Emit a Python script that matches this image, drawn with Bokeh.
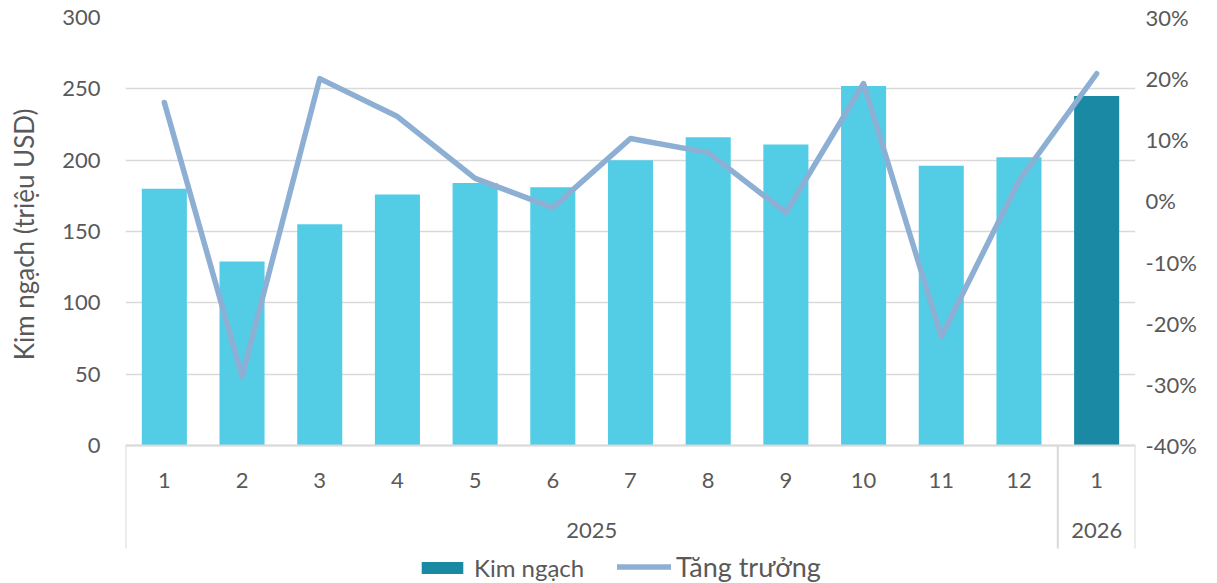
import math
from bokeh.plotting import figure
from bokeh.models import (Range1d, LinearAxis, FixedTicker, ColumnDataSource, Legend,
                          LegendItem, Title, PrintfTickFormatter)
from bokeh.core.properties import value
from bokeh.embed import file_html
from bokeh.resources import INLINE

# ---- data ----
years = ["2025"] * 12 + ["2026"]
months = ["1", "2", "3", "4", "5", "6", "7", "8", "9", "10", "11", "12", "1"]
kim_ngach = [180, 129, 155, 176, 184, 181, 200, 216, 211, 252, 196, 202, 245]
tang_truong = [16.1, -28.7, 20.0, 13.8, 3.7, -1.1, 10.2, 7.9, -1.9, 19.2, -22.2, 3.3, 20.8]
left_ticks = [0, 50, 100, 150, 200, 250, 300]
right_ticks = [-40, -30, -20, -10, 0, 10, 20, 30]

FONT = "Lato"
TXT = "#595959"
GRID = "#D9D9D9"
LIGHT = "#53CDE6"
DARK = "#1A89A3"
LINEC = "#8DAFD4"

n = len(months)
xs = list(range(1, n + 1))
colors = [DARK if y == "2026" else LIGHT for y in years]

# layout in pixels (frame from top of chart to bottom of figure)
W, H = 1217, 583
LEFT, RIGHT_EDGE, TOP = 124, 1135, 17
PLOT_PX = 428.0    # 0..300 pixel height
SEP_PX = 103.0     # separator length below baseline
frame_px = H - TOP
y_top = 300
upp = y_top / PLOT_PX
y_bot = -(frame_px - PLOT_PX) * upp
y_sep = -SEP_PX * upp
y_month = -35 * upp
y_year = -85 * upp
p_top, p_bot_axis = 30, -40
pct_bot = p_bot_axis + (y_bot / y_top) * (p_top - p_bot_axis)

p = figure(width=W, height=H, output_backend="svg", toolbar_location=None,
           x_range=Range1d(0.5, n + 0.5), y_range=Range1d(y_bot, y_top),
           x_axis_location=None, min_border_left=LEFT, min_border_right=W - RIGHT_EDGE,
           min_border_top=TOP, min_border_bottom=0)
p.outline_line_color = None
p.xgrid.visible = False
p.ygrid.ticker = FixedTicker(ticks=left_ticks)
p.ygrid.grid_line_color = GRID
p.ygrid.grid_line_width = 1.5

p.extra_y_ranges = {"pct": Range1d(pct_bot, p_top)}

ax = p.yaxis[0]
ax.ticker = FixedTicker(ticks=left_ticks)
ax.axis_line_color = None
ax.major_tick_line_color = None
ax.minor_tick_line_color = None
ax.major_tick_out = 0
ax.major_tick_in = 0
ax.minor_tick_out = 0
ax.major_label_standoff = 25
ax.major_label_text_font = FONT
ax.major_label_text_font_size = "22px"
ax.major_label_text_color = TXT
ax.axis_label = " "
ax.axis_label_text_font_size = "8px"
ax.axis_label_standoff = 3

rax = LinearAxis(y_range_name="pct", ticker=FixedTicker(ticks=right_ticks),
                 formatter=PrintfTickFormatter(format="%d%%"))
rax.axis_line_color = None
rax.major_tick_line_color = None
rax.minor_tick_line_color = None
rax.major_tick_out = 0
rax.major_tick_in = 0
rax.minor_tick_out = 0
rax.major_label_standoff = 10
rax.major_label_text_font = FONT
rax.major_label_text_font_size = "22px"
rax.major_label_text_color = TXT
p.add_layout(rax, "right")

src = ColumnDataSource(dict(x=xs, kim=kim_ngach, pct=tang_truong, month=months,
                            year=years, color=colors))

bars = p.vbar(x="x", top="kim", bottom=0, width=0.58, fill_color="color",
              line_color=None, source=src)

# x axis baseline
p.segment(x0=[0.5], y0=[0], x1=[n + 0.5], y1=[0], line_color=GRID, line_width=2)

# group separators
groups = []
for y in years:
    if not groups or groups[-1][0] != y:
        groups.append([y, 0])
    groups[-1][1] += 1
bounds = [0.5]
centers = []
for g, cnt in groups:
    start = bounds[-1]
    bounds.append(start + cnt)
    centers.append(start + cnt / 2.0)
p.segment(x0=bounds, y0=[0] * len(bounds), x1=bounds, y1=[y_sep] * len(bounds),
          line_color=GRID, line_width=2)

# category labels
p.text(x="x", y=y_month, text="month", source=src, text_font=value(FONT),
       text_font_size="22px", text_color=TXT, text_align="center", text_baseline="middle")
p.text(x=centers, y=[y_year] * len(centers), text=[g for g, _ in groups], text_font=value(FONT),
       text_font_size="22px", text_color=TXT, text_align="center", text_baseline="middle")

line = p.line(x="x", y="pct", y_range_name="pct", source=src, line_width=5.5,
              line_color=LINEC, line_cap="round", line_join="round")

# y axis title
p.add_layout(Title(text="Kim ngạch (triệu USD)", align="right", offset=108 - TOP,
                   text_font=FONT, text_font_size="26px", text_font_style="normal",
                   text_color=TXT), "left")

leg1 = Legend(items=[LegendItem(label="Kim ngạch", renderers=[bars], index=n - 1)],
              orientation="horizontal", location=(415 - LEFT, 0),
              border_line_color=None, background_fill_alpha=0,
              label_text_font=FONT, label_text_font_size="24px", label_text_color=TXT,
              glyph_width=52, glyph_height=15, label_standoff=6, label_height=32,
              padding=0, margin=0)
leg2 = Legend(items=[LegendItem(label="Tăng trưởng", renderers=[line])],
              orientation="horizontal", location=(616 - LEFT, 0),
              border_line_color=None, background_fill_alpha=0,
              label_text_font=FONT, label_text_font_size="27px", label_text_color=TXT,
              glyph_width=54, glyph_height=15, label_standoff=5, label_height=32,
              padding=0, margin=0)
p.add_layout(leg1, "center")
p.add_layout(leg2, "center")

open("out.html", "w").write(file_html(p, INLINE))
